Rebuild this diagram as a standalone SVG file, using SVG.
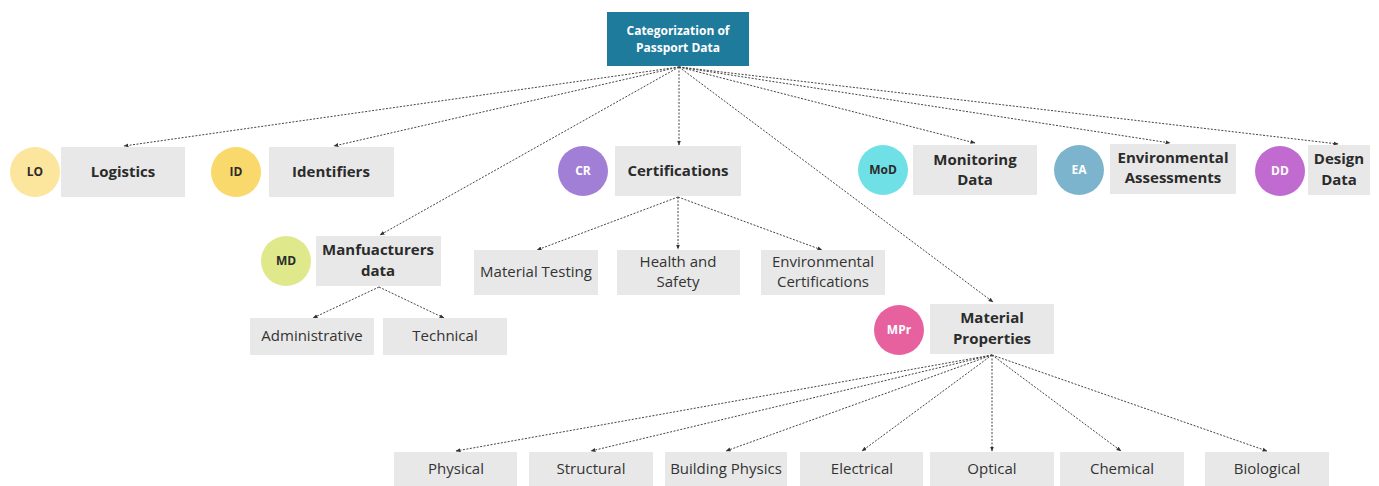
<svg xmlns="http://www.w3.org/2000/svg" width="1379" height="486" viewBox="0 0 1379 486">
<defs>
<marker id="ah" viewBox="0 0 10 10" refX="9" refY="5" markerWidth="5" markerHeight="5" orient="auto">
<path d="M0,1 L10,5 L0,9 z" fill="#333"/>
</marker>
<style>
.box{fill:#e8e8e8}
.t{font-family:"Open Sans","Liberation Sans",sans-serif;font-size:15px;fill:#333;text-anchor:middle}
.b{font-weight:bold;fill:#2b2b2b}
.c{font-family:"Open Sans","Liberation Sans",sans-serif;font-size:12px;font-weight:bold;text-anchor:middle}
.dk{fill:#2b2b2b}
.wh{fill:#ffffff}
.conn path{fill:none;stroke:#444;stroke-width:1;stroke-dasharray:2 1.5;marker-end:url(#ah)}
</style>
</defs>
<rect width="1379" height="486" fill="#ffffff"/>
<g class="conn" id="connectors">
<path d="M679,67 L124,146"/>
<path d="M679,67 L334,146"/>
<path d="M679,67 L380,235"/>
<path d="M679,67 L679,145"/>
<path d="M679,67 L993,302"/>
<path d="M679,67 L975,143"/>
<path d="M679,67 L1170,143"/>
<path d="M679,67 L1338,144"/>
<path d="M678,197 L537,250"/>
<path d="M678,197 L678,249"/>
<path d="M678,197 L822,250"/>
<path d="M379,287 L313,318"/>
<path d="M379,287 L444,318"/>
<path d="M992,355 L456,451"/>
<path d="M992,355 L591,451"/>
<path d="M992,355 L726,451"/>
<path d="M992,355 L862,451"/>
<path d="M992,355 L992,451"/>
<path d="M992,355 L1121,451"/>
<path d="M992,355 L1267,451"/>
</g>
<g id="root">
<rect x="607" y="12" width="142" height="54" fill="#1f7b9c"/>
<text class="c wh" x="678" y="35" font-size="12.5">Categorization of</text>
<text class="c wh" x="678" y="52" font-size="12.5">Passport Data</text>
</g>
<g id="logistics">
<circle cx="35" cy="172" r="25" fill="#fce59c"/>
<text class="c dk" x="35" y="176">LO</text>
<rect class="box" x="61" y="147" width="124" height="50"/>
<text class="t b" x="123" y="177">Logistics</text>
</g>
<g id="identifiers">
<circle cx="236" cy="172" r="25" fill="#f9d96b"/>
<text class="c dk" x="236" y="176">ID</text>
<rect class="box" x="269" y="147" width="125" height="50"/>
<text class="t b" x="331" y="177">Identifiers</text>
</g>
<g id="certifications">
<circle cx="583" cy="171" r="25" fill="#a17fd6"/>
<text class="c wh" x="583" y="175">CR</text>
<rect class="box" x="615" y="146" width="126" height="50"/>
<text class="t b" x="678" y="176">Certifications</text>
</g>
<g id="monitoring">
<circle cx="883" cy="170" r="25" fill="#6fe0e6"/>
<text class="c dk" x="883" y="174">MoD</text>
<rect class="box" x="913" y="145" width="124" height="50"/>
<text class="t b" x="975" y="165">Monitoring</text>
<text class="t b" x="975" y="185">Data</text>
</g>
<g id="environmental">
<circle cx="1079" cy="170" r="25" fill="#7db4cd"/>
<text class="c wh" x="1079" y="174">EA</text>
<rect class="box" x="1110" y="144" width="126" height="50"/>
<text class="t b" x="1173" y="163">Environmental</text>
<text class="t b" x="1173" y="183">Assessments</text>
</g>
<g id="design">
<circle cx="1280" cy="171" r="25" fill="#c16bd1"/>
<text class="c wh" x="1280" y="175">DD</text>
<rect class="box" x="1308" y="145" width="62" height="50"/>
<text class="t b" x="1339" y="164">Design</text>
<text class="t b" x="1339" y="185">Data</text>
</g>
<g id="manufacturers">
<circle cx="286" cy="261" r="25" fill="#dfe98b"/>
<text class="c dk" x="286" y="265">MD</text>
<rect class="box" x="316" y="236" width="125" height="50"/>
<text class="t b" x="378" y="255">Manfuacturers</text>
<text class="t b" x="378" y="276">data</text>
</g>
<g id="administrative">
<rect class="box" x="250" y="318" width="124" height="37"/>
<text class="t" x="312" y="341">Administrative</text>
</g>
<g id="technical">
<rect class="box" x="383" y="318" width="124" height="37"/>
<text class="t" x="445" y="341">Technical</text>
</g>
<g id="material-testing">
<rect class="box" x="474" y="250" width="124" height="45"/>
<text class="t" x="536" y="277">Material Testing</text>
</g>
<g id="health-safety">
<rect class="box" x="617" y="250" width="123" height="45"/>
<text class="t" x="678" y="267">Health and</text>
<text class="t" x="678" y="287">Safety</text>
</g>
<g id="env-certifications">
<rect class="box" x="761" y="250" width="124" height="45"/>
<text class="t" x="823" y="267">Environmental</text>
<text class="t" x="823" y="287">Certifications</text>
</g>
<g id="material-properties">
<circle cx="899" cy="330" r="25" fill="#e8619f"/>
<text class="c wh" x="899" y="334">MPr</text>
<rect class="box" x="930" y="304" width="124" height="50"/>
<text class="t b" x="992" y="323">Material</text>
<text class="t b" x="992" y="344">Properties</text>
</g>
<g id="physical">
<rect class="box" x="394" y="452" width="123" height="34"/>
<text class="t" x="456" y="474">Physical</text>
</g>
<g id="structural">
<rect class="box" x="529" y="452" width="124" height="34"/>
<text class="t" x="591" y="474">Structural</text>
</g>
<g id="building-physics">
<rect class="box" x="665" y="452" width="122" height="34"/>
<text class="t" x="726" y="474">Building Physics</text>
</g>
<g id="electrical">
<rect class="box" x="800" y="452" width="123" height="34"/>
<text class="t" x="862" y="474">Electrical</text>
</g>
<g id="optical">
<rect class="box" x="930" y="452" width="124" height="34"/>
<text class="t" x="992" y="474">Optical</text>
</g>
<g id="chemical">
<rect class="box" x="1060" y="452" width="124" height="34"/>
<text class="t" x="1122" y="474">Chemical</text>
</g>
<g id="biological">
<rect class="box" x="1205" y="452" width="124" height="34"/>
<text class="t" x="1267" y="474">Biological</text>
</g>
</svg>
